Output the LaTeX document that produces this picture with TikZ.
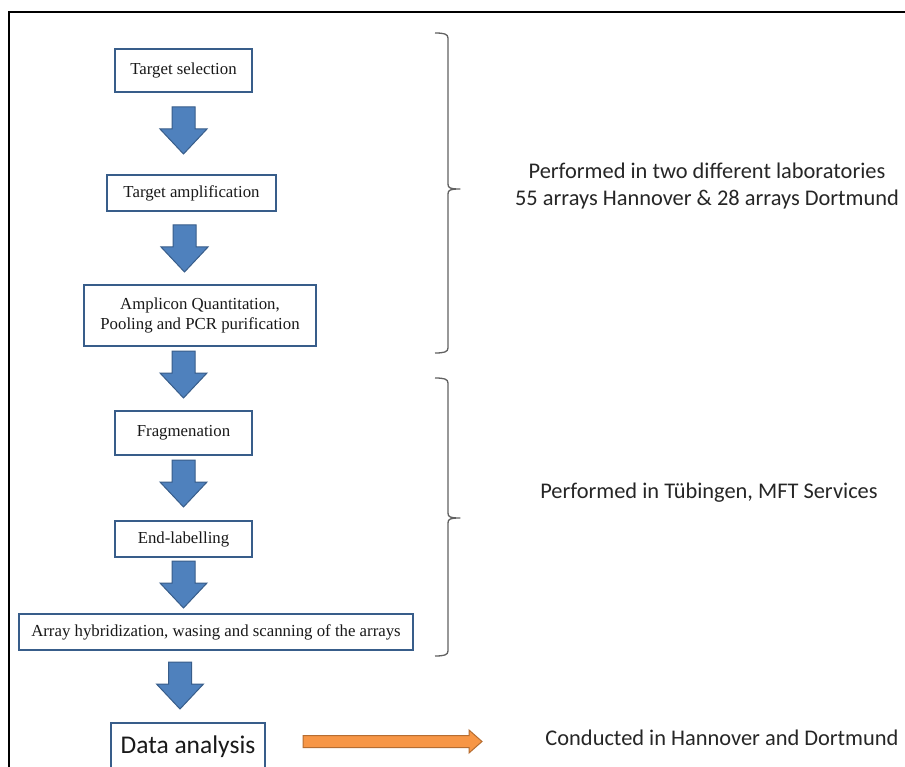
\documentclass[tikz,border=0pt]{standalone}
\usepackage{fontspec}
\setmainfont{Liberation Serif}
\newfontfamily\calib{Carlito}
\begin{document}
\begin{tikzpicture}[x=1pt,y=-1pt,
  stepbox/.style={draw=boxblue,line width=2.6pt,fill=white,inner sep=0pt,
    align=center,font=\fontsize{16.8}{20}\selectfont,text=black!90},
  note/.style={font=\calib\fontsize{22.4}{27}\selectfont,text=black!85,align=center,inner sep=0pt},
  bracestyle/.style={draw=black!62,line width=1.3pt,line join=round},
  arrowstyle/.style={fill=arrowblue,draw=boxblue,line width=1pt,line join=miter},
  downarrow/.pic={\path[arrowstyle] (-11.5,0) -- (11.5,0) -- (11.5,22) -- (23.5,22)
      -- (0,47) -- (-23.5,22) -- (-11.5,22) -- cycle;}]
\definecolor{boxblue}{HTML}{385D8A}
\definecolor{arrowblue}{HTML}{4F81BD}
\definecolor{orangefill}{HTML}{F79646}
\definecolor{orangeedge}{HTML}{B66D31}
\useasboundingbox (0,0) rectangle (905,767);
\fill[white] (0,0) rectangle (905,767);

% outer frame (top and left edges)
\draw[line width=1.6pt,black] (9,790) -- (9,12) -- (920,12);

% process steps
\node[stepbox,minimum width=137,minimum height=43] (sel) at (183.5,70.5) {Target selection};
\node[stepbox,minimum width=169,minimum height=36] (amp) at (191.5,193) {Target amplification};
\node[stepbox,minimum width=232,minimum height=61] (quant) at (200,315.5)
  {Amplicon Quantitation,\\Pooling and PCR purification};
\node[stepbox,minimum width=137,minimum height=44] (frag) at (183.5,433) {Fragmenation};
\node[stepbox,minimum width=137,minimum height=36] (lab) at (183.5,539) {End-labelling};
\node[stepbox,minimum width=394,minimum height=36] (hyb) at (216,632)
  {Array hybridization, wasing and scanning of the arrays};
\node[stepbox,minimum width=154,minimum height=48,font=\calib\fontsize{25.5}{30}\selectfont]
  (data) at (188,747) {Data analysis};

% block arrows between the steps
\pic at (183.5,107) {downarrow};
\pic at (184.5,225) {downarrow};
\pic at (183.5,351) {downarrow};
\pic at (183.5,460) {downarrow};
\pic at (183.5,561) {downarrow};
\pic at (180,662) {downarrow};

% orange arrow to the analysis note
\path[fill=orangefill,draw=orangeedge,line width=1pt]
  (303,735.5) -- (469,735.5) -- (469,730) -- (482,741.5) -- (469,753)
  -- (469,747.5) -- (303,747.5) -- cycle;

% braces
\draw[bracestyle] (435,33) .. controls (444,33) and (448,34) .. (448,38)
  -- (448,184) .. controls (448,188) and (450,189) .. (460,189)
  .. controls (450,189) and (448,190) .. (448,194)
  -- (448,348) .. controls (448,352) and (444,353) .. (435,353);
\draw[bracestyle] (435,378) .. controls (444,378) and (448,379) .. (448,383)
  -- (448,513) .. controls (448,517) and (450,518) .. (460,518)
  .. controls (450,518) and (448,519) .. (448,523)
  -- (448,651) .. controls (448,655) and (444,656) .. (435,656);

% notes
\node[note] (labs) at (707,186) {Performed in two different laboratories\\55 arrays Hannover \& 28 arrays Dortmund};
\node[note] (tub) at (709,493) {Performed in Tübingen, MFT Services};
\node[note] (cond) at (722,738) {Conducted in Hannover and Dortmund};
\end{tikzpicture}
\end{document}
